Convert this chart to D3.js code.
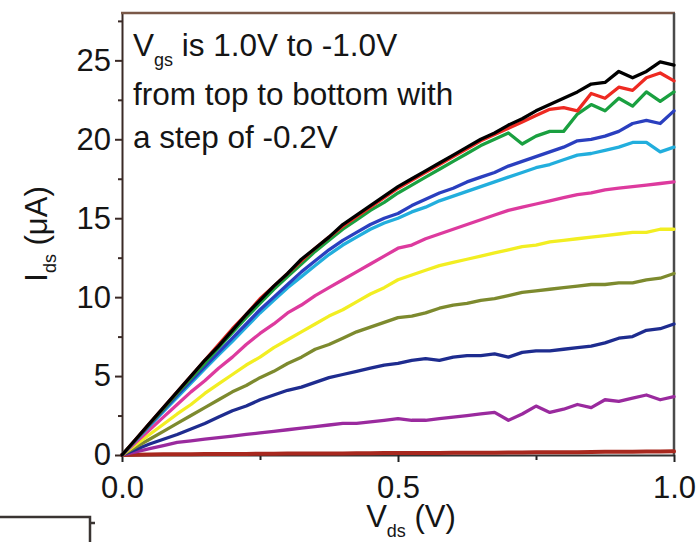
<!DOCTYPE html>
<html>
<head>
<meta charset="utf-8">
<script src="https://cdn.jsdelivr.net/npm/d3@7"></script>
<style>
  html, body { margin: 0; padding: 0; background: #fff; }
  svg { display: block; font-family: "Liberation Sans", Arial, sans-serif; }
</style>
</head>
<body>
<svg id="chart" width="700" height="542"></svg>
<script>
// Vds grid (V)
const vds = d3.range(0, 41).map(i => +(i * 0.025).toFixed(3));

// Gate voltages, top to bottom
const vgs = [1.0, 0.8, 0.6, 0.4, 0.2, 0.0, -0.2, -0.4, -0.6, -0.8, -1.0];
const colors = ["#000000", "#ee2a22", "#1aa040", "#2a3fbf", "#22aedd", "#dd3a9e",
                "#f2ee22", "#7d8a2e", "#1e2c8f", "#9a2a9e", "#a8281e"];

// Ids (uA) for each Vgs
const ids_p10 = [0,1.0,2.0,3.0,4.0,5.0,6.0,6.9,7.9,8.9,9.8,10.7,11.5,12.4,13.1,13.8,14.6,15.2,15.8,16.4,17.0,17.5,18.0,18.5,19.0,19.5,20.0,20.4,20.9,21.3,21.8,22.2,22.6,23.0,23.5,23.6,24.3,23.9,24.3,24.9,24.7];
const ids_p08 = [0,1.0,2.0,3.0,4.0,5.0,6.0,7.0,8.0,8.9,9.9,10.7,11.5,12.3,13.1,13.8,14.5,15.1,15.7,16.3,16.9,17.4,17.9,18.4,18.9,19.4,19.9,20.3,20.7,21.1,21.5,21.9,22.0,21.8,22.9,22.6,23.3,23.1,23.9,24.2,23.7];
const ids_p06 = [0,0.97,1.95,2.9,3.9,4.85,5.8,6.8,7.75,8.7,9.6,10.5,11.3,12.1,12.9,13.6,14.3,14.9,15.5,16.0,16.6,17.1,17.6,18.1,18.6,19.1,19.6,20.0,20.4,19.7,20.2,20.5,20.5,21.6,22.2,21.8,22.6,22.1,23.0,22.4,23.0];
const ids_p04 = [0,0.95,1.9,2.85,3.8,4.7,5.6,6.5,7.4,8.3,9.2,10.0,10.8,11.6,12.3,13.0,13.6,14.1,14.6,15.0,15.3,15.8,16.2,16.6,16.9,17.3,17.6,17.9,18.3,18.6,18.9,19.2,19.5,19.9,20.0,20.2,20.5,21.0,21.2,21.0,21.8];
const ids_p02 = [0,0.93,1.85,2.75,3.65,4.55,5.45,6.35,7.2,8.1,9.0,9.8,10.6,11.3,12.0,12.7,13.3,13.8,14.3,14.7,15.0,15.4,15.7,16.1,16.4,16.7,17.0,17.3,17.6,17.9,18.2,18.4,18.7,19.0,19.1,19.3,19.5,19.8,19.8,19.2,19.5];
const ids_000 = [0,0.8,1.6,2.4,3.2,4.0,4.7,5.5,6.2,7.0,7.7,8.3,9.0,9.5,10.1,10.6,11.1,11.6,12.1,12.6,13.1,13.3,13.7,14.0,14.3,14.6,14.9,15.2,15.5,15.7,15.9,16.1,16.3,16.5,16.6,16.8,16.9,17.0,17.1,17.2,17.3];
const ids_m02 = [0,0.65,1.3,1.95,2.6,3.2,3.9,4.5,5.1,5.7,6.2,6.8,7.3,7.8,8.3,8.8,9.2,9.7,10.2,10.6,11.1,11.4,11.7,12.0,12.2,12.4,12.6,12.8,13.0,13.2,13.3,13.5,13.6,13.7,13.8,13.9,14.0,14.1,14.1,14.3,14.3];
const ids_m04 = [0,0.5,1.0,1.5,2.0,2.5,3.0,3.5,4.0,4.4,4.9,5.3,5.8,6.2,6.7,7.0,7.4,7.8,8.1,8.4,8.7,8.8,9.0,9.3,9.5,9.6,9.8,9.9,10.1,10.3,10.4,10.5,10.6,10.7,10.8,10.8,10.9,10.9,11.1,11.2,11.5];
const ids_m06 = [0,0.35,0.7,1.0,1.3,1.65,2.0,2.4,2.8,3.1,3.5,3.8,4.1,4.3,4.6,4.9,5.1,5.3,5.5,5.7,5.8,6.0,6.1,6.0,6.2,6.3,6.3,6.4,6.2,6.5,6.6,6.6,6.7,6.8,6.9,7.1,7.4,7.5,7.9,8.0,8.3];
const ids_m08 = [0,0.2,0.4,0.6,0.8,0.9,1.0,1.1,1.2,1.3,1.4,1.5,1.6,1.7,1.8,1.9,2.0,2.0,2.1,2.2,2.3,2.2,2.2,2.3,2.4,2.5,2.6,2.7,2.2,2.6,3.1,2.7,2.9,3.2,3.0,3.5,3.4,3.6,3.8,3.5,3.7];
const ids_m10 = [0,0.02,0.03,0.04,0.05,0.05,0.06,0.06,0.07,0.07,0.08,0.08,0.09,0.09,0.1,0.1,0.1,0.11,0.11,0.12,0.12,0.12,0.13,0.13,0.14,0.14,0.15,0.15,0.16,0.16,0.17,0.17,0.18,0.18,0.19,0.2,0.2,0.21,0.22,0.22,0.23];

const idsSeries = [ids_p10, ids_p08, ids_p06, ids_p04, ids_p02, ids_000, ids_m02, ids_m04, ids_m06, ids_m08, ids_m10];

// Ticks
const yMajor = [0, 5, 10, 15, 20, 25];
const yMinor = [2.5, 7.5, 12.5, 17.5, 22.5, 27.5];
const xMajor = [0.0, 0.5, 1.0];
const xMinor = [0.25, 0.75];

const svg = d3.select("#chart");
const x = d3.scaleLinear().domain([0, 1]).range([122, 674]);
const y = d3.scaleLinear().domain([0, 28]).range([455, 13]);

const FS = 31;
const FA = 31.5;

// minor ticks
svg.append("g").attr("transform", "translate(122,0)")
  .call(d3.axisLeft(y).tickValues(yMinor).tickSize(4).tickSizeOuter(0).tickFormat(""))
  .call(g => g.select(".domain").remove())
  .call(g => g.selectAll("line").attr("stroke", "#3a2a26").attr("stroke-width", 2));
svg.append("g").attr("transform", "translate(0,455)")
  .call(d3.axisBottom(x).tickValues(xMinor).tickSize(5).tickSizeOuter(0).tickFormat(""))
  .call(g => g.select(".domain").remove())
  .call(g => g.selectAll("line").attr("stroke", "#222").attr("stroke-width", 2));

// major axes
const yAxis = svg.append("g").attr("transform", "translate(122,0)")
  .call(d3.axisLeft(y).tickValues(yMajor).tickSize(7).tickSizeOuter(0).tickPadding(4).tickFormat(d3.format("d")));
yAxis.select(".domain").attr("stroke", "#3a2a26").attr("stroke-width", 2);
yAxis.selectAll("line").attr("stroke", "#3a2a26").attr("stroke-width", 2);
yAxis.selectAll("text").attr("font-size", FS).attr("fill", "#151515")
  .attr("font-family", "Liberation Sans, Arial, sans-serif");

const xAxis = svg.append("g").attr("transform", "translate(0,455)")
  .call(d3.axisBottom(x).tickValues(xMajor).tickSize(7).tickSizeOuter(0).tickPadding(14).tickFormat(d3.format(".1f")));
xAxis.select(".domain").attr("stroke", "#333").attr("stroke-width", 2);
xAxis.selectAll("line").attr("stroke", "#222").attr("stroke-width", 2);
xAxis.selectAll("text").attr("font-size", FS).attr("fill", "#151515")
  .attr("font-family", "Liberation Sans, Arial, sans-serif");

// frame top & right
svg.append("line").attr("x1", x(0) - 1).attr("x2", x(1) + 1).attr("y1", y(28)).attr("y2", y(28))
  .attr("stroke", "#7a5848").attr("stroke-width", 2.5);
svg.append("line").attr("x1", x(1)).attr("x2", x(1)).attr("y1", y(28)).attr("y2", y(0))
  .attr("stroke", "#4a4a4a").attr("stroke-width", 2.5);

// curves
const line = d3.line().x((d, i) => x(vds[i])).y(d => y(d)).curve(d3.curveLinear);
const curves = svg.append("g");
for (let k = idsSeries.length - 1; k >= 0; k--) {
  curves.append("path")
    .datum(idsSeries[k])
    .attr("d", line)
    .attr("fill", "none")
    .attr("stroke", colors[k])
    .attr("stroke-width", k === idsSeries.length - 1 ? 4 : 3.3)
    .attr("stroke-linejoin", "round")
    .attr("stroke-linecap", "round")
    .attr("data-vgs", vgs[k]);
}

// annotation
const ann = svg.append("g").attr("font-size", FA).attr("fill", "#151515");
const t1 = ann.append("text").attr("x", 133).attr("y", 56);
t1.append("tspan").text("V");
t1.append("tspan").attr("font-size", 18).attr("dy", 10).text("gs");
t1.append("tspan").attr("dy", -10).text(" is 1.0V to -1.0V");
ann.append("text").attr("x", 133).attr("y", 105).text("from top to bottom with");
ann.append("text").attr("x", 133).attr("y", 148).text("a step of -0.2V");

// y label
const yl = svg.append("text")
  .attr("transform", "translate(47,234) rotate(-90)")
  .attr("text-anchor", "middle").attr("font-size", FS).attr("fill", "#151515");
yl.append("tspan").text("I");
yl.append("tspan").attr("font-size", 18).attr("dy", 9).text("ds");
yl.append("tspan").attr("dy", -9).text(" (\u03bcA)");

// x label
const xl = svg.append("text")
  .attr("x", 411).attr("y", 527)
  .attr("text-anchor", "middle").attr("font-size", FS).attr("fill", "#151515");
xl.append("tspan").text("V");
xl.append("tspan").attr("font-size", 18).attr("dy", 10).text("ds");
xl.append("tspan").attr("dy", -10).text(" (V)");

// partial frame of neighbouring panel (bottom-left corner)
svg.append("path").attr("d", "M0,517H90V542M90,523H95")
  .attr("fill", "none").attr("stroke", "#3a3432").attr("stroke-width", 2.5);
</script>
</body>
</html>
